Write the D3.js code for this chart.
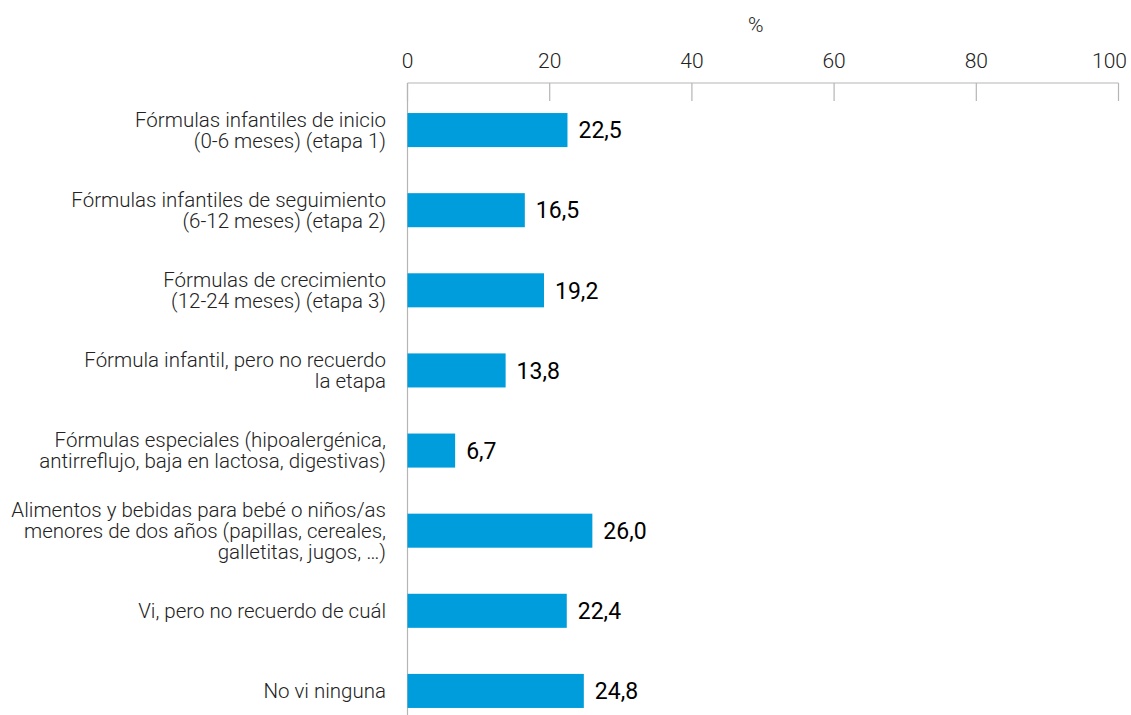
<!DOCTYPE html>
<html lang="es">
<head>
  <meta charset="UTF-8">
  <script src="https://cdn.jsdelivr.net/npm/d3@7"></script>
  <title>Fórmulas</title>
  <style>
    body { margin: 0; background: #fff; }
    text { font-family: Roboto, sans-serif; }
    .cat { font-size: 20.5px; font-weight: 300; fill: #222; }
    .tick text { font-size: 21px; font-weight: 300; fill: #222; }
    .val { font-size: 23px; font-weight: 400; fill: #000; }
  </style>
</head>
<body>
  <svg width="1131" height="715" id="chart"></svg>
  <script>
    const categories = [
      ["Fórmulas infantiles de inicio", "(0-6 meses) (etapa 1)"],
      ["Fórmulas infantiles de seguimiento", "(6-12 meses) (etapa 2)"],
      ["Fórmulas de crecimiento", "(12-24 meses) (etapa 3)"],
      ["Fórmula infantil, pero no recuerdo", "la etapa"],
      ["Fórmulas especiales (hipoalergénica,", "antirreflujo, baja en lactosa, digestivas)"],
      ["Alimentos y bebidas para bebé o niños/as", "menores de dos años (papillas, cereales,", "galletitas, jugos, …)"],
      ["Vi, pero no recuerdo de cuál"],
      ["No vi ninguna"]
    ];
    const values = [22.5, 16.5, 19.2, 13.8, 6.7, 26.0, 22.4, 24.8];
    const ticks = [0, 20, 40, 60, 80, 100];

    const svg = d3.select("#chart");
    const x = d3.scaleLinear().domain([0, 100]).range([407.5, 1118.5]);
    const y = d3.scaleBand().domain(d3.range(values.length)).range([90, 731]).paddingInner(0.575).paddingOuter(0.2875);

    // top axis
    const axisY = 83;
    svg.append("line")
      .attr("x1", x(0)).attr("x2", x(100))
      .attr("y1", axisY).attr("y2", axisY)
      .attr("stroke", "#b5b5b5").attr("stroke-width", 1.2);
    const tg = svg.selectAll("g.tick").data(ticks).enter().append("g").attr("class", "tick")
      .attr("transform", d => `translate(${x(d)},0)`);
    tg.append("line").attr("y1", axisY).attr("y2", 101).attr("stroke", "#b5b5b5").attr("stroke-width", 1.2);
    // last label is pulled inside the picture
    tg.append("text").attr("y", 68)
      .attr("text-anchor", d => d === 100 ? "end" : "middle")
      .attr("x", d => d === 100 ? 1127 - x(d) : 0)
      .text(d => d);
    svg.append("text").attr("x", x(49)).attr("y", 32)
      .attr("text-anchor", "middle").style("font-size", "21px").style("font-weight", 300).style("fill", "#222")
      .text("%");

    // vertical axis line
    svg.append("line")
      .attr("x1", x(0)).attr("x2", x(0))
      .attr("y1", axisY).attr("y2", 715)
      .attr("stroke", "#b5b5b5").attr("stroke-width", 1.2);

    // bars
    svg.selectAll("rect.bar").data(values).enter().append("rect").attr("class", "bar")
      .attr("x", x(0))
      .attr("y", (d, i) => y(i))
      .attr("width", d => x(d) - x(0))
      .attr("height", y.bandwidth())
      .attr("fill", "#009ddc");

    svg.selectAll("text.val").data(values).enter().append("text").attr("class", "val")
      .attr("x", d => x(d) + 11)
      .attr("y", (d, i) => y(i) + y.bandwidth() / 2)
      .attr("dy", "0.36em")
      .text(d => d3.format(".1f")(d).replace(".", ","));

    // category labels
    const lineH = 21;
    const cat = svg.selectAll("text.cat").data(categories).enter().append("text").attr("class", "cat")
      .attr("text-anchor", "end")
      .attr("y", (d, i) => y(i) + y.bandwidth() / 2 - (d.length - 1) * lineH / 2);
    cat.selectAll("tspan").data(d => d).enter().append("tspan")
      .attr("x", 386)
      .attr("dy", (d, j) => j === 0 ? "0.36em" : lineH)
      .text(d => d);
  </script>
</body>
</html>
